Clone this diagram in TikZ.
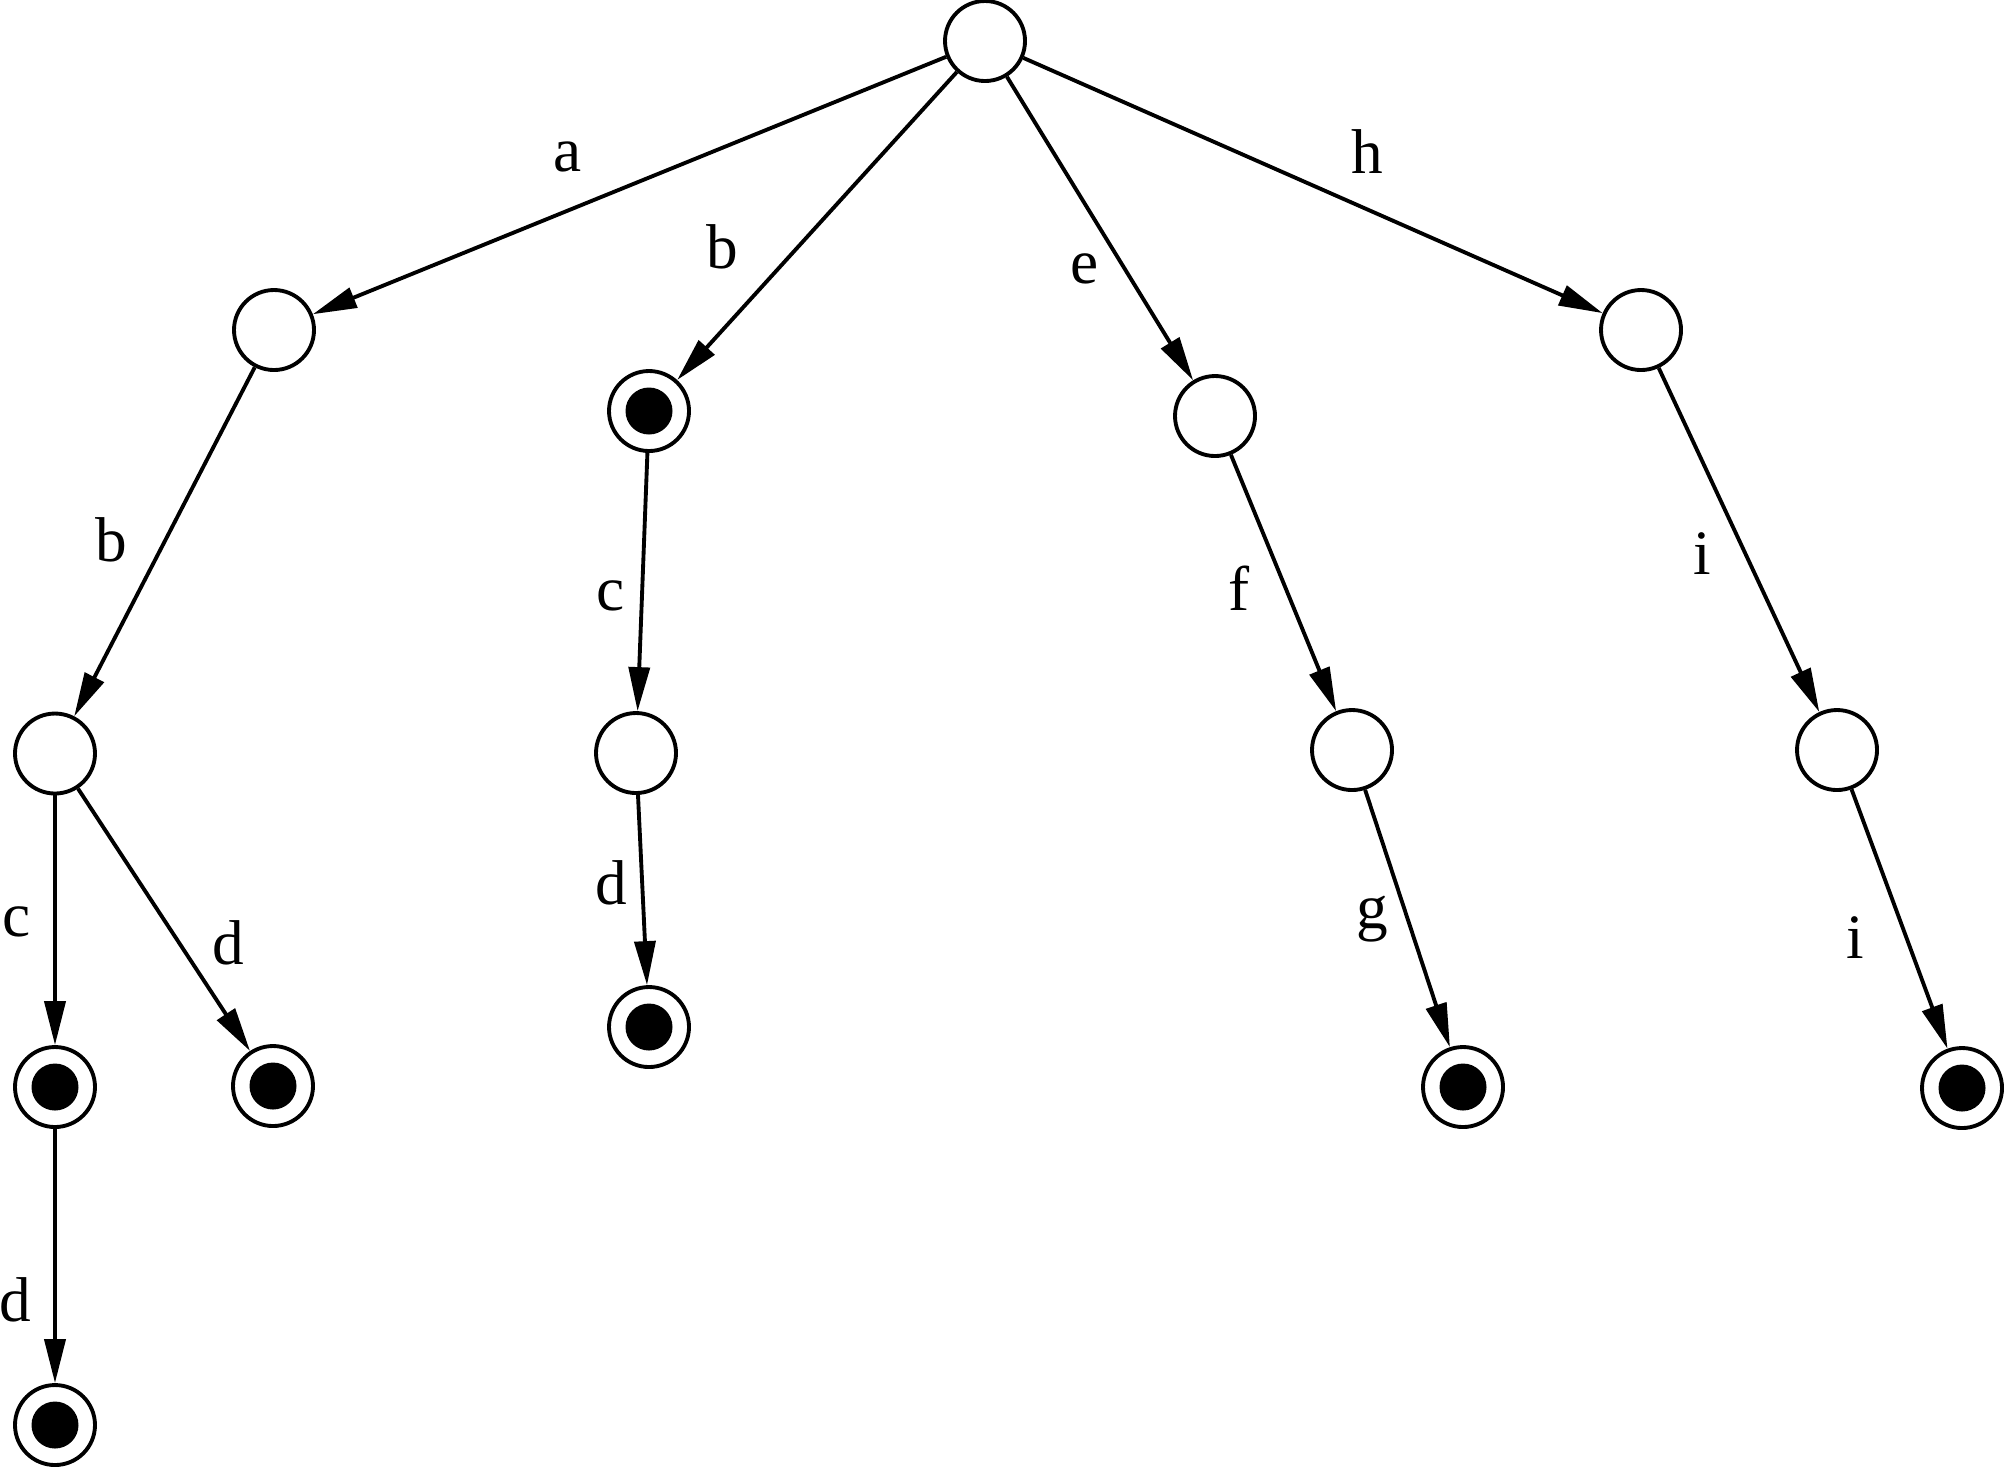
\documentclass[tikz,border=0pt]{standalone}
\usepackage{fontspec}
\setmainfont{Liberation Serif}
\usetikzlibrary{arrows.meta, positioning, calc}

\begin{document}
\begin{tikzpicture}[line width=1.1pt,
    st/.style={circle, draw, minimum size=8mm, inner sep=0pt},
    acc/.style={st, path picture={\fill (path picture bounding box.center) circle (2.35mm);}},
    lbl/.style={inner sep=0pt, font=\fontsize{18}{20}\selectfont},
    tr/.style={-{Triangle[length=4.4mm, width=2.1mm]}}]
    \useasboundingbox (0,0) rectangle (20.07,-14.68);
    % states
    \node[st] (r) at (9.85,-0.41) {};
    \node[st] (na) at (2.74,-3.30) {};
    \node[acc] (nb) at (6.49,-4.11) {};
    \node[st] (ne) at (12.15,-4.16) {};
    \node[st] (nh) at (16.41,-3.30) {};
    \node[st] (nab) at (0.55,-7.535) {};
    \node[st] (nbc) at (6.36,-7.53) {};
    \node[st] (nef) at (13.52,-7.50) {};
    \node[st] (nhi) at (18.37,-7.50) {};
    \node[acc] (nabc) at (0.55,-10.87) {};
    \node[acc] (nabd) at (2.73,-10.86) {};
    \node[acc] (nbcd) at (6.49,-10.27) {};
    \node[acc] (nefg) at (14.63,-10.87) {};
    \node[acc] (nhii) at (19.62,-10.88) {};
    \node[acc] (nabcd) at (0.55,-14.25) {};
    % transitions
    \draw[tr] (r) -- (na);
    \draw[tr] (r) -- (nb);
    \draw[tr] (r) -- (ne);
    \draw[tr] (r) -- (nh);
    \draw[tr] (na) -- (nab);
    \draw[tr] (nab) -- (nabc);
    \draw[tr] (nab) -- (nabd);
    \draw[tr] (nabc) -- (nabcd);
    \draw[tr] (nb) -- (nbc);
    \draw[tr] (nbc) -- (nbcd);
    \draw[tr] (ne) -- (nef);
    \draw[tr] (nef) -- (nefg);
    \draw[tr] (nh) -- (nhi);
    \draw[tr] (nhi) -- (nhii);
    % labels
    \node[lbl] (la) at (5.68,-1.57) {a};
    \node[lbl] (lb) at (7.22,-2.47) {b};
    \node[lbl] (le) at (10.85,-2.69) {e};
    \node[lbl] (lh) at (13.67,-1.52) {h};
    \node[lbl] (lab) at (1.11,-5.40) {b};
    \node[lbl] (lbc) at (6.11,-5.96) {c};
    \node[lbl] (lef) at (12.39,-5.88) {f};
    \node[lbl] (lhi) at (17.02,-5.54) {i};
    \node[lbl] (labc) at (0.17,-9.22) {c};
    \node[lbl] (labd) at (2.28,-9.43) {d};
    \node[lbl] (lbcd) at (6.11,-8.83) {d};
    \node[lbl] (lefg) at (13.72,-9.19) {g};
    \node[lbl] (lhii) at (18.55,-9.38) {i};
    \node[lbl] (labcd) at (0.15,-13.00) {d};
\end{tikzpicture}
\end{document}
